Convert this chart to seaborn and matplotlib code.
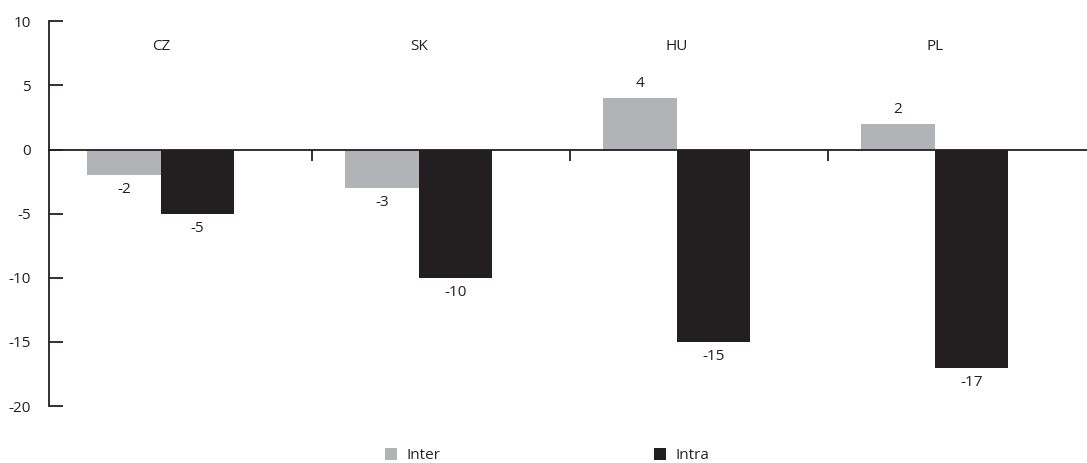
import pandas as pd
import numpy as np
import matplotlib
matplotlib.use("Agg")
import matplotlib.pyplot as plt
import seaborn as sns

countries = ["CZ", "SK", "HU", "PL"]
inter = [-2, -3, 4, 2]
intra = [-5, -10, -15, -17]
series = ["Inter", "Intra"]
colors = ["#b2b3b6", "#231f20"]
yticks = [-20, -15, -10, -5, 0, 5, 10]

df = pd.DataFrame({
	"country": countries * 2,
	"value": inter + intra,
	"series": ["Inter"] * len(countries) + ["Intra"] * len(countries),
})

sns.set_style("white")
plt.rcParams['font.family'] = ['Open Sans', 'DejaVu Sans']
plt.rcParams['font.size'] = 11
plt.rcParams['axes.unicode_minus'] = False

fig = plt.figure(figsize=(10.87, 4.63), dpi=100)
ax = fig.add_axes([0.045, 0.123, 0.955, 0.831])

sns.barplot(data=df, x="country", y="value", hue="series", order=countries,
	hue_order=series, palette=colors, width=0.57, saturation=1,
	edgecolor="none", legend=True, ax=ax)

# value labels
for cont in ax.containers:
	ax.bar_label(cont, padding=5, color="#231f20", fontsize=11)

# category names at top
for i, c in enumerate(countries):
	ax.text(i, 8, c, ha="center", va="center", fontsize=11, color="#231f20")

ax.set_ylim(-20, 10)
ax.set_xlim(-0.434, 3.59)
ax.set_yticks(yticks)
ax.set_xticks([0.585, 1.585, 2.585])
ax.set_xticklabels([])
ax.set_xlabel("")
ax.set_ylabel("")

for s in ["top", "right"]:
	ax.spines[s].set_visible(False)
ax.spines["bottom"].set_position(("data", 0))
ax.spines["left"].set_color("#231f20")
ax.spines["bottom"].set_color("#231f20")
ax.spines["left"].set_linewidth(1.3)
ax.spines["bottom"].set_linewidth(1.3)
ax.tick_params(axis="y", left=True, direction="in", length=10, width=1.3, color="#231f20",
	labelcolor="#231f20", labelsize=11, pad=13)
ax.tick_params(axis="x", bottom=True, direction="out", length=8, width=1.3, color="#231f20")

# Tidy legend
ax.legend(loc="lower center", bbox_to_anchor=(0.48, -0.185), ncol=2, frameon=False,
	fontsize=11, handlelength=0.8, handleheight=0.8, columnspacing=14, handletextpad=0.6)

plt.savefig("out.png", dpi=100)
